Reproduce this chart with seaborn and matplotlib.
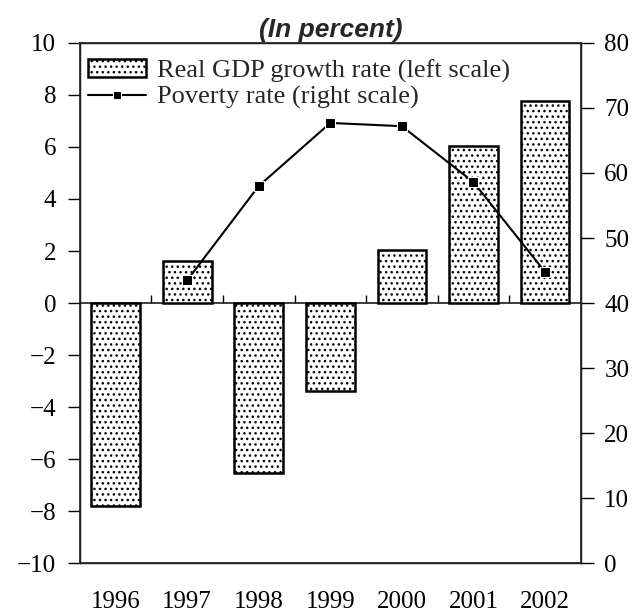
import matplotlib
matplotlib.use("Agg")
import matplotlib.pyplot as plt
import numpy as np
import pandas as pd
import seaborn as sns

years = ["1996", "1997", "1998", "1999", "2000", "2001", "2002"]
gdp_growth = [-7.8, 1.6, -6.55, -3.4, 2.05, 6.05, 7.75]
pov_years = ["1997", "1998", "1999", "2000", "2001", "2002"]
poverty = [43.5, 58.0, 67.7, 67.2, 58.6, 44.8]

sns.set_theme(style="ticks")
plt.rcParams["font.family"] = ["Liberation Serif", "DejaVu Serif"]
plt.rcParams["hatch.linewidth"] = 1.0

gdp_df = pd.DataFrame({"year": years, "gdp": gdp_growth})
pov_df = pd.DataFrame({"pos": [years.index(y) for y in pov_years], "pov": poverty})

fig = plt.figure(figsize=(6.34, 6.14), dpi=100)
ax = fig.add_axes([0.126, 0.083, 0.79, 0.847])

sns.barplot(data=gdp_df, x="year", y="gdp", order=years, width=0.68,
            color="white", edgecolor="black", linewidth=1.8, hatch="...",
            ax=ax, label="Real GDP growth rate (left scale)")
ax.set_ylim(-10, 10)
ax.set_xlim(-0.5, 6.5)
ax.set_yticks(np.arange(-10, 11, 2))
ax.set_xlabel(""); ax.set_ylabel("")
ax.tick_params(axis="y", direction="out", length=9, width=1, pad=8,
               labelsize=18, colors="black")
ax.tick_params(axis="x", length=0, pad=20, labelsize=18, colors="black")
for s in ax.spines.values():
    s.set_color("black"); s.set_linewidth(1)

# zero line with category separators
zero = ax.secondary_xaxis(0.5)
zero.set_xticks(np.arange(0.5, 6, 1), labels=[""] * 6)
zero.tick_params(direction="out", length=6, width=1, colors="black")
zero.spines["bottom"].set_linewidth(1.2)

ax2 = ax.twinx()
sns.lineplot(data=pov_df, x="pos", y="pov", color="black", marker="s",
             markersize=6.5, linewidth=1.5, ax=ax2, label="Poverty rate (right scale)",
             legend=False)
ax2.set_ylim(0, 80)
ax2.set_yticks(np.arange(0, 81, 10))
ax2.set_ylabel("")
ax2.tick_params(axis="y", direction="out", length=9, width=1, pad=8,
                labelsize=18, colors="black")
ax2.spines["right"].set_visible(True)

h1, l1 = ax.get_legend_handles_labels()
h2, l2 = ax2.get_legend_handles_labels()
ax.legend(h1 + h2, l1 + l2, loc="upper left", bbox_to_anchor=(-0.015, 1.0),
          frameon=False, fontsize=19, handlelength=2.2, handletextpad=0.4,
          borderaxespad=0.2, labelspacing=0.1, markerscale=0.8)
ax.set_title("(In percent)", fontfamily="Liberation Sans", fontweight="bold",
             fontstyle="italic", fontsize=19, pad=4)

fig.savefig("out.png", dpi=100)
